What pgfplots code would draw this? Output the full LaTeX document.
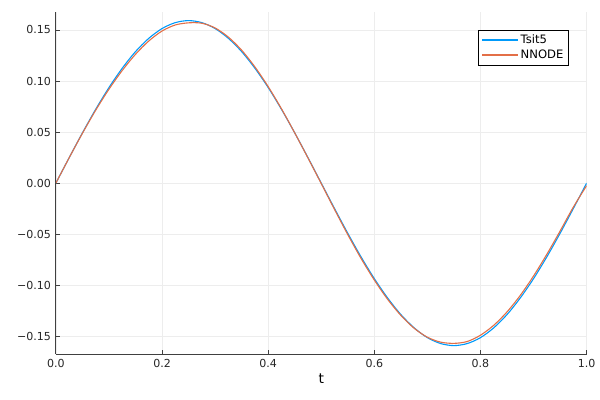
\documentclass[border=0pt]{standalone}
\usepackage{pgfplots}
\pgfplotsset{compat=1.18}
\usepackage{fontspec}
\setmainfont{DejaVu Sans}
\definecolor{jblue}{RGB}{0,154,250}
\definecolor{jred}{RGB}{227,111,71}
\begin{document}
\begin{tikzpicture}
\begin{axis}[
  scale only axis,
  width=384.5pt, height=247.9pt,
  xmin=0, xmax=1, ymin=-0.1676, ymax=0.1676,
  axis x line*=bottom, axis y line*=left,
  axis line style={black!75, line width=0.8pt, -},
  tick align=inside, major tick length=3pt,
  tick style={black!75, line width=0.6pt},
  grid=major, grid style={black!7, line width=0.5pt},
  xtick={0,0.2,0.4,0.6,0.8,1.0},
  xticklabels={0.0,0.2,0.4,0.6,0.8,1.0},
  ytick={-0.15,-0.10,-0.05,0,0.05,0.10,0.15},
  yticklabels={−0.15,−0.10,−0.05,0.00,0.05,0.10,0.15},
  ticklabel style={font=\fontsize{8}{9}\selectfont, text=black!85},
  xlabel={t}, xlabel style={font=\fontsize{10}{12}\selectfont, yshift=2pt},
  legend style={at={(0.966,0.9475)}, anchor=north east,
    font=\fontsize{8.4}{9}\selectfont, inner sep=2pt, nodes={inner sep=1.5pt}},
  legend cell align=left,
]
\addlegendimage{legend image code/.code={\draw[color=jblue, line width=1pt] (0pt,0.3pt) -- (26pt,0.3pt);}}
\addlegendentry{Tsit5}
\addlegendimage{legend image code/.code={\draw[color=jred, line width=1pt] (0pt,0.3pt) -- (26pt,0.3pt);}}
\addlegendentry{NNODE}
\addplot[jblue, line width=0.8pt, smooth, forget plot] coordinates {
(0,0) (0.025,0.0249) (0.05,0.0492) (0.075,0.0723) (0.1,0.0936) (0.125,0.1125)
(0.15,0.1288) (0.175,0.1418) (0.2,0.1514) (0.225,0.1572) (0.25,0.1592)
(0.275,0.1572) (0.3,0.1514) (0.325,0.1418) (0.35,0.1288) (0.375,0.1125)
(0.4,0.0936) (0.425,0.0723) (0.45,0.0492) (0.475,0.0249) (0.5,0)
(0.525,-0.0249) (0.55,-0.0492) (0.575,-0.0723) (0.6,-0.0936) (0.625,-0.1125)
(0.65,-0.1288) (0.675,-0.1418) (0.7,-0.1514) (0.725,-0.1572) (0.75,-0.1592)
(0.775,-0.1572) (0.8,-0.1514) (0.825,-0.1418) (0.85,-0.1288) (0.875,-0.1125)
(0.9,-0.0936) (0.925,-0.0723) (0.95,-0.0492) (0.975,-0.0249) (1.0,0)
};
\addplot[jred, line width=0.8pt, smooth, forget plot] coordinates {
(0,0) (0.025,0.0248) (0.05,0.0488) (0.075,0.0714) (0.1,0.0920) (0.125,0.1103)
(0.15,0.1262) (0.175,0.1392) (0.2,0.1490) (0.225,0.1549) (0.25,0.1570)
(0.275,0.1566) (0.3,0.1520) (0.325,0.1430) (0.35,0.1302) (0.375,0.1138)
(0.4,0.0945) (0.425,0.0728) (0.45,0.0492) (0.475,0.0246) (0.5,-0.0005)
(0.525,-0.0258) (0.55,-0.0505) (0.575,-0.0738) (0.6,-0.0950) (0.625,-0.1138)
(0.65,-0.1296) (0.675,-0.1422) (0.7,-0.1510) (0.725,-0.1558) (0.75,-0.1570)
(0.775,-0.1552) (0.8,-0.1490) (0.825,-0.1393) (0.85,-0.1262) (0.875,-0.1100)
(0.9,-0.0910) (0.925,-0.0698) (0.95,-0.0470) (0.975,-0.0235) (1.0,-0.0025)
};
\end{axis}
\path ([xshift=-40.5pt,yshift=-32.5pt]current axis.south west) rectangle ([xshift=8.7pt,yshift=8.7pt]current axis.north east);
\end{tikzpicture}
\end{document}
